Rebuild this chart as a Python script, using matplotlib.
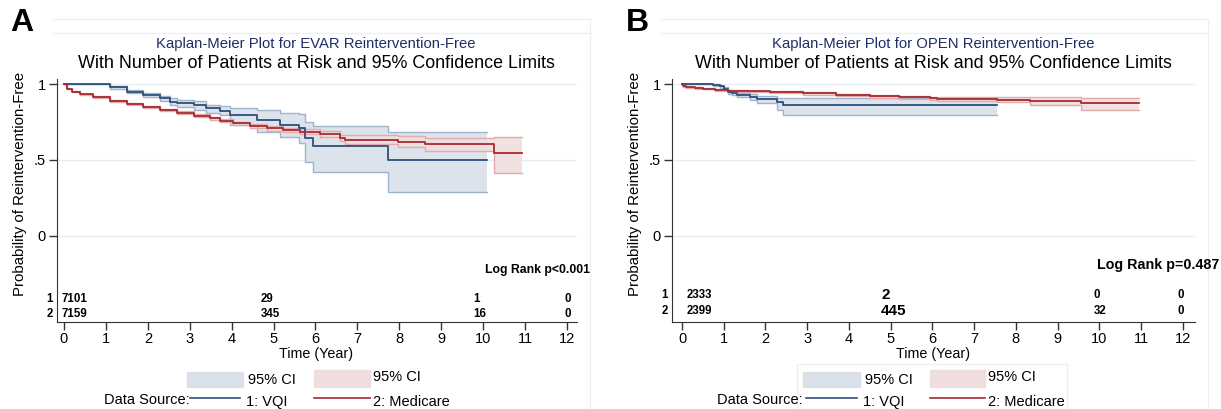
import matplotlib.pyplot as plt
from matplotlib.patches import Rectangle
from matplotlib.lines import Line2D

plt.rcParams['font.family'] = ['Liberation Sans', 'DejaVu Sans']

W, H = 1221, 409

# ---- Panel A: EVAR ----
tA_vqi = [0, 0.82, 1.1, 1.5, 1.89, 2.29, 2.53, 2.69, 3.09, 3.39, 3.72, 3.96, 4.6, 5.16, 5.6, 5.75, 5.95, 7.72, 10.1]
sA_vqi = [1.0, 1.0, 0.978, 0.95, 0.928, 0.906, 0.884, 0.873, 0.862, 0.84, 0.822, 0.796, 0.763, 0.73, 0.713, 0.643, 0.592, 0.502, 0.502]
uA_vqi = [1.0, 1.0, 0.985, 0.96, 0.942, 0.922, 0.905, 0.895, 0.89, 0.862, 0.855, 0.84, 0.83, 0.807, 0.80, 0.752, 0.726, 0.682, 0.682]
lA_vqi = [1.0, 1.0, 0.97, 0.94, 0.913, 0.888, 0.862, 0.85, 0.83, 0.812, 0.795, 0.73, 0.686, 0.653, 0.61, 0.485, 0.419, 0.292, 0.292]

tA_med = [0, 0.06, 0.18, 0.38, 0.7, 1.1, 1.5, 1.89, 2.29, 2.69, 3.09, 3.48, 3.72, 4.04, 4.44, 4.84, 5.23, 5.63, 6.11, 6.59, 6.71, 7.98, 8.62, 10.26, 10.92]
sA_med = [1.0, 0.97, 0.95, 0.932, 0.912, 0.89, 0.868, 0.85, 0.829, 0.811, 0.792, 0.774, 0.759, 0.741, 0.725, 0.708, 0.697, 0.686, 0.672, 0.645, 0.632, 0.616, 0.603, 0.544, 0.544]
uA_med = [1.0, 0.975, 0.955, 0.937, 0.918, 0.896, 0.875, 0.857, 0.837, 0.82, 0.801, 0.784, 0.77, 0.753, 0.738, 0.722, 0.712, 0.702, 0.69, 0.665, 0.662, 0.658, 0.648, 0.653, 0.653]
lA_med = [1.0, 0.965, 0.945, 0.927, 0.906, 0.884, 0.861, 0.843, 0.821, 0.802, 0.783, 0.764, 0.748, 0.729, 0.712, 0.694, 0.682, 0.67, 0.654, 0.625, 0.605, 0.588, 0.562, 0.416, 0.416]

riskA_vqi = [7101, 29, 1, 0]
riskA_med = [7159, 345, 16, 0]

# ---- Panel B: OPEN ----
tB_vqi = [0, 0.59, 0.75, 0.91, 1.0, 1.11, 1.2, 1.31, 1.63, 1.79, 2.27, 2.43, 7.54]
sB_vqi = [1.0, 1.0, 0.995, 0.984, 0.97, 0.95, 0.94, 0.928, 0.917, 0.90, 0.879, 0.862, 0.862]
uB_vqi = [1.0, 1.0, 0.998, 0.99, 0.98, 0.962, 0.953, 0.943, 0.933, 0.92, 0.906, 0.906, 0.906]
lB_vqi = [1.0, 1.0, 0.99, 0.975, 0.958, 0.937, 0.925, 0.912, 0.898, 0.878, 0.829, 0.796, 0.796]

tB_med = [0, 0.02, 0.1, 0.3, 0.51, 0.8, 1.11, 1.6, 2.1, 2.9, 3.7, 4.5, 5.2, 5.94, 6.1, 6.62, 7.54, 8.34, 9.57, 10.95]
sB_med = [1.0, 0.984, 0.978, 0.974, 0.97, 0.962, 0.955, 0.951, 0.947, 0.938, 0.928, 0.92, 0.913, 0.906, 0.90, 0.899, 0.896, 0.888, 0.875, 0.875]
uB_med = [1.0, 0.988, 0.982, 0.978, 0.975, 0.967, 0.96, 0.957, 0.953, 0.945, 0.936, 0.929, 0.923, 0.917, 0.912, 0.912, 0.912, 0.914, 0.91, 0.91]
lB_med = [1.0, 0.98, 0.974, 0.97, 0.965, 0.957, 0.95, 0.945, 0.941, 0.931, 0.92, 0.911, 0.903, 0.895, 0.888, 0.886, 0.88, 0.862, 0.829, 0.829]

riskB_vqi = [2333, 2, 0, 0]
riskB_med = [2399, 445, 32, 0]

BLUE, BLUE_CI, BLUE_EDGE = '#2c4f7c', '#dae0e8', '#9fb3cc'
RED, RED_CI, RED_EDGE = '#a62a30', '#f0dede', '#e3a9ab'
GRID = '#e4eef2'
FAINT = '#eaf1f5'


def fx(px):
    return px / W


def fy(py):
    return 1 - py / H


fig = plt.figure(figsize=(W / 100, H / 100), dpi=100)

panels = [
    dict(letter='A', name='EVAR', x0=57, x1=577, tl=-0.167, tr=12.24, off=0,
         vqi=(tA_vqi, sA_vqi, uA_vqi, lA_vqi), med=(tA_med, sA_med, uA_med, lA_med),
         risk=(riskA_vqi, riskA_med), riskx=[-0.05, 4.7, 9.76, 11.93], risky=(-0.414, -0.513),
         big=(), logrank='Log Rank p<0.001', lr_size=8.8, lr_x=590, lr_y=270,
         title_x=316, leg=(187, 243, 314, 370, 104), box=(53, 590)),
    dict(letter='B', name='OPEN', x0=672, x1=1195, tl=-0.24, tr=12.29, off=615,
         vqi=(tB_vqi, sB_vqi, uB_vqi, lB_vqi), med=(tB_med, sB_med, uB_med, lB_med),
         risk=(riskB_vqi, riskB_med), riskx=[0.1, 4.77, 9.87, 11.88], risky=(-0.388, -0.493),
         big=(1,), logrank='Log Rank p=0.487', lr_size=10.3, lr_x=1219, lr_y=265,
         title_x=933, leg=(803, 860, 930, 985, 717), box=(661, 1208)),
]

for p in panels:
    # faint graph-region outlines
    bx0, bx1 = p['box']
    fig.add_artist(Line2D([fx(bx0), fx(bx1), fx(bx1)], [fy(19), fy(19), fy(409)],
                          transform=fig.transFigure, color=FAINT, lw=1))
    fig.add_artist(Line2D([fx(bx0), fx(bx1)], [fy(33), fy(33)], transform=fig.transFigure,
                          color=FAINT, lw=1))

    ax = fig.add_axes([fx(p['x0']), fy(322), fx(p['x1'] - p['x0']), fy(79) - fy(322)])
    ax.set_xlim(p['tl'], p['tr'])
    ax.set_ylim(-0.566, 1.033)
    for g in [0, 0.5, 1]:
        ax.axhline(g, color=GRID, lw=1, zorder=0)

    for (t, s, u, l), cf, ce in [(p['vqi'], BLUE_CI, BLUE_EDGE),
                                 (p['med'], RED_CI, RED_EDGE)]:
        ax.fill_between(t, l, u, step='post', color=cf, alpha=0.9, lw=0, zorder=1)
        ax.step(t, u, where='post', color=ce, lw=1.0, zorder=2)
        ax.step(t, l, where='post', color=ce, lw=1.0, zorder=2)
    for (t, s, u, l), c in [(p['vqi'], BLUE), (p['med'], RED)]:
        ax.step(t, s, where='post', color=c, lw=1.3, zorder=3)

    for sp in ['top', 'right']:
        ax.spines[sp].set_visible(False)
    for sp in ['left', 'bottom']:
        ax.spines[sp].set_color('#333333')
    ax.set_yticks([0, 0.5, 1])
    ax.set_yticklabels(['0', '.5', '1'], fontsize=10.5)
    ax.set_xticks(range(13))
    ax.set_xticklabels([str(i) for i in range(13)], fontsize=10.5)
    ax.tick_params(length=6, width=1, color='#333333', pad=2)
    ax.tick_params(axis='x', pad=1)

    # number at risk
    for row, (counts, ry) in enumerate(zip(p['risk'], p['risky'])):
        for j, (n, rx) in enumerate(zip(counts, p['riskx'])):
            size = 11 if j in p['big'] else 8.3
            ax.text(rx, ry, str(n), fontsize=size, fontweight='bold', ha='left', va='center')
        ax.text(-0.008, ry, str(row + 1), transform=ax.get_yaxis_transform(),
                fontsize=8.3, fontweight='bold', ha='right', va='center', clip_on=False)

    fig.text(fx(p['lr_x']), fy(p['lr_y']), p['logrank'], fontsize=p['lr_size'],
             fontweight='bold', ha='right', va='center')

    # titles and labels
    fig.text(fx(p['title_x']), fy(44), 'Kaplan-Meier Plot for %s Reintervention-Free' % p['name'],
             fontsize=10.7, color='#1f2f66', ha='center', va='center')
    fig.text(fx(p['title_x']), fy(63), 'With Number of Patients at Risk and 95% Confidence Limits',
             fontsize=12.9, color='black', ha='center', va='center')
    fig.text(fx(p['off'] + 22), fy(23), p['letter'], fontsize=23, fontweight='bold',
             ha='center', va='center')
    fig.text(fx(p['off'] + 20), fy(184), 'Probability of Reintervention-Free', fontsize=10.8,
             rotation=90, ha='center', va='center')
    fig.text(fx(p['title_x']), fy(354), 'Time (Year)', fontsize=10.3, ha='center', va='center')

    # legend
    b0, b1, r0, r1, ds = p['leg']
    fig.add_artist(Rectangle((fx(b0), fy(387)), fx(b1 - b0), fy(372) - fy(387),
                             transform=fig.transFigure, color=BLUE_CI))
    fig.add_artist(Rectangle((fx(r0), fy(387)), fx(r1 - r0), fy(370) - fy(387),
                             transform=fig.transFigure, color=RED_CI))
    fig.text(fx(b1 + 5), fy(380), '95% CI', fontsize=10.5, ha='left', va='center')
    fig.text(fx(r1 + 3), fy(377), '95% CI', fontsize=10.5, ha='left', va='center')
    fig.text(fx(ds), fy(400), 'Data Source:', fontsize=10.5, ha='left', va='center')
    fig.add_artist(Line2D([fx(b0 + 3), fx(b1 - 3)], [fy(398), fy(398)], transform=fig.transFigure,
                          color=BLUE, lw=1.2))
    fig.add_artist(Line2D([fx(r0), fx(r1)], [fy(398), fy(398)], transform=fig.transFigure,
                          color=RED, lw=1.2))
    fig.text(fx(b1 + 3), fy(402), '1: VQI', fontsize=10.5, ha='left', va='center')
    fig.text(fx(r1 + 3), fy(402), '2: Medicare', fontsize=10.5, ha='left', va='center')

fig.add_artist(Rectangle((fx(797), fy(409)), fx(1067 - 797), fy(364) - fy(409),
                         transform=fig.transFigure, fill=False, ec=FAINT, lw=1))

fig.savefig('out.png', dpi=100)
